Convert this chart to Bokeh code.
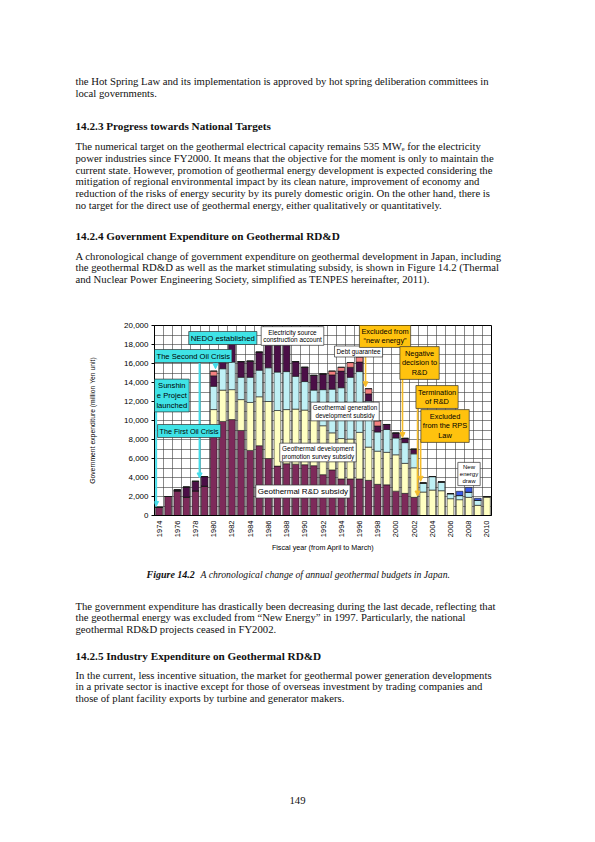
import math

from bokeh.plotting import figure
from bokeh.layouts import column
from bokeh.models import (ColumnDataSource, Label, Arrow, NormalHead, FixedTicker,
                          NumeralTickFormatter)
from bokeh.core.properties import value
from bokeh.embed import file_html
from bokeh.resources import INLINE

# fiscal years and budget components (million Yen)
years = [1974, 1975, 1976, 1977, 1978, 1979, 1980, 1981, 1982, 1983,
         1984, 1985, 1986, 1987, 1988, 1989, 1990, 1991, 1992, 1993,
         1994, 1995, 1996, 1997, 1998, 1999, 2000, 2001, 2002, 2003,
         2004, 2005, 2006, 2007, 2008, 2009, 2010]
rd_subsidy = [850, 2000, 2600, 1950, 2600, 3100, 8600, 9900, 10100, 8950,
              6850, 7350, 6000, 5200, 5450, 5400, 5350, 5250, 4300, 4800,
              3850, 3850, 3850, 3700, 3280, 3230, 2560, 2330, 1910, 0,
              0, 0, 0, 0, 0, 0, 0]
promotion_survey = [0, 0, 0, 0, 0, 0, 2550, 3300, 3150, 3250,
                    5050, 5150, 6000, 5850, 5700, 5800, 5750, 4950, 5150, 3900,
                    4250, 4200, 4900, 3500, 3490, 3420, 3830, 3160, 3110, 2470,
                    2680, 2610, 1770, 1665, 1910, 1070, 1980]
generation_dev = [0, 0, 0, 0, 0, 0, 2450, 2250, 2900, 2350,
                  2650, 2800, 3550, 4050, 4000, 3450, 3000, 3000, 3800, 4600,
                  5350, 6500, 6400, 4850, 2020, 2400, 1770, 2180, 1470, 950,
                  1420, 920, 530, 435, 545, 525, 0]
electricity_account = [0, 0, 100, 1050, 1000, 1000, 1100, 950, 1950, 1650,
                       1700, 1900, 2550, 2850, 2900, 1550, 1500, 1550, 1650, 1500,
                       1750, 1050, 1000, 750, 630, 530, 520, 450, 490, 0,
                       0, 0, 0, 0, 0, 0, 0]
debt_guarantee = [0, 0, 0, 0, 0, 0, 500, 0, 0, 0,
                  0, 0, 0, 0, 0, 0, 0, 0, 0, 400,
                  400, 500, 550, 550, 560, 0, 0, 0, 0, 0,
                  0, 0, 0, 0, 0, 0, 0]
new_energy_draw = [0, 0, 0, 0, 0, 0, 0, 0, 0, 0,
                   0, 0, 0, 0, 0, 0, 0, 0, 0, 0,
                   0, 0, 0, 0, 0, 0, 0, 0, 0, 0,
                   0, 0, 0, 445, 495, 215, 0]

x_ticks = [1974, 1976, 1978, 1980, 1982, 1984, 1986, 1988, 1990, 1992,
           1994, 1996, 1998, 2000, 2002, 2004, 2006, 2008, 2010]
y_ticks = [0, 2000, 4000, 6000, 8000, 10000, 12000, 14000, 16000, 18000, 20000]
y_grid = [0, 1000, 2000, 3000, 4000, 5000, 6000, 7000, 8000, 9000, 10000,
          11000, 12000, 13000, 14000, 15000, 16000, 17000, 18000, 19000, 20000]

top_lines = ["the Hot Spring Law and its implementation is approved by hot spring deliberation committees in",
             "local governments."]
para_targets = [
    "The numerical target on the geothermal electrical capacity remains 535 MWₑ for the electricity",
    "power industries since FY2000. It means that the objective for the moment is only to maintain the",
    "current state. However, promotion of geothermal energy development is expected considering the",
    "mitigation of regional environmental impact by its clean nature, improvement of economy and",
    "reduction of the risks of energy security by its purely domestic origin. On the other hand, there is",
    "no target for the direct use of geothermal energy, either qualitatively or quantitatively.",
]
para_govt = [
    "A chronological change of government expenditure on geothermal development in Japan, including",
    "the geothermal RD&D as well as the market stimulating subsidy, is shown in Figure 14.2 (Thermal",
    "and Nuclear Power Engineering Society, simplified as TENPES hereinafter, 2011).",
]
para_decrease = [
    "The government expenditure has drastically been decreasing during the last decade, reflecting that",
    "the geothermal energy was excluded from “New Energy” in 1997. Particularly, the national",
    "geothermal RD&D projects ceased in FY2002.",
]
para_industry = [
    "In the current, less incentive situation, the market for geothermal power generation developments",
    "in a private sector is inactive except for those of overseas investment by trading companies and",
    "those of plant facility exports by turbine and generator makers.",
]
headings = ["14.2.3  Progress towards National Targets",
            "14.2.4  Government Expenditure on Geothermal RD&D",
            "14.2.5  Industry Expenditure on Geothermal RD&D"]
caption_label = "Figure 14.2"
caption_text = "A chronological change of annual geothermal budgets in Japan."
page_number = "149"

stackers = ["rd", "promo", "gen", "elec", "debt", "newe"]
colors = ["#7D2A5A", "#FFFFC2", "#BFF0F5", "#4B0F47", "#F58080", "#3A5AE8"]

SANS = "Liberation Sans"
SERIF = "Liberation Serif"
W = 595
LEFT = 75
STEP = 11.65
BODY = "10.7px"
HEAD = "11.2px"


# ---------- page text (a figure whose frame is the page itself) ----------
def text_page(y_top, y_bottom):
    f = figure(width=W, height=y_bottom - y_top, x_range=(0, W), y_range=(y_bottom, y_top),
               x_axis_type=None, y_axis_type=None, output_backend="svg",
               toolbar_location=None, min_border=0, frame_align=False)
    f.grid.visible = False
    f.outline_line_color = None
    f.background_fill_color = "white"
    f.border_fill_color = "white"
    return f


def put_text(f, lines, xs, ys, size=BODY, style="normal", align="left"):
    src = ColumnDataSource(data=dict(x=xs, y=ys, text=lines))
    f.text(x="x", y="y", text="text", source=src, text_font=value(SERIF),
           text_font_size=value(size), text_font_style=style, text_color="#111111",
           text_align=align, text_baseline="alphabetic")


def paragraph(f, lines, y0):
    put_text(f, lines, [LEFT] * len(lines), [y0 + i * STEP for i in range(len(lines))])


top = text_page(0, 317)
paragraph(top, top_lines, 80.5)
paragraph(top, para_targets, 145.8)
paragraph(top, para_govt, 255.0)
put_text(top, headings[:2], [LEFT, LEFT], [125.8, 235.7], HEAD, "bold")

bottom = text_page(565, 842)
put_text(bottom, [caption_label], [146], [574], "10px", "bold italic")
put_text(bottom, [caption_text], [200], [574], "9.7px", "italic")
paragraph(bottom, para_decrease, 605.0)
put_text(bottom, headings[2:], [LEFT], [655], HEAD, "bold")
paragraph(bottom, para_industry, 674.0)
put_text(bottom, [page_number], [297], [800], BODY, "normal", "center")

# ---------- the chart ----------
source = ColumnDataSource(data=dict(
    year=years, rd=rd_subsidy, promo=promotion_survey, gen=generation_dev,
    elec=electricity_account, debt=debt_guarantee, newe=new_energy_draw))

p = figure(width=W, height=248, x_range=(1973.5, 2010.5), y_range=(0, 20000),
           output_backend="svg", toolbar_location=None, frame_align=False,
           min_border_left=154, min_border_right=104,
           min_border_top=8, min_border_bottom=50)
p.background_fill_color = "white"
p.border_fill_color = "white"
p.outline_line_color = "black"
p.outline_line_width = 1

p.vbar_stack(stackers, x="year", width=0.74, fill_color=colors,
             line_color="#1a1a1a", line_width=0.6, source=source)

# grid: every category boundary and every 1000
p.xgrid.ticker = FixedTicker(ticks=[y - 0.5 for y in years] + [years[-1] + 0.5])
p.ygrid.ticker = FixedTicker(ticks=y_grid)
for g in (p.xgrid, p.ygrid):
    g.grid_line_color = "#3a3a3a"
    g.grid_line_width = 0.6

p.yaxis.ticker = FixedTicker(ticks=y_ticks)
p.yaxis.formatter = NumeralTickFormatter(format="0,0")
p.yaxis.axis_label = "Government expenditure (million Yen unit)"
p.yaxis.axis_label_standoff = 25
p.yaxis.major_tick_out = 3
p.yaxis.major_label_standoff = 3

p.xaxis.ticker = FixedTicker(ticks=x_ticks)
p.xaxis.major_label_orientation = math.pi / 2
p.xaxis.axis_label = "Fiscal year (from April to March)"
p.xaxis.axis_label_standoff = 3
p.xaxis.major_tick_out = 0
p.xaxis.major_label_standoff = 5

for ax in (p.xaxis, p.yaxis):
    ax.axis_line_color = "black"
    ax.major_tick_line_color = "black"
    ax.major_tick_in = 0
    ax.minor_tick_line_color = None
    ax.major_label_text_font = SANS
    ax.major_label_text_color = "black"
    ax.axis_label_text_font = SANS
    ax.axis_label_text_font_style = "normal"
    ax.axis_label_text_color = "black"
p.yaxis.major_label_text_font_size = "8px"
p.xaxis.major_label_text_font_size = "7.5px"
p.yaxis.axis_label_text_font_size = "6.8px"
p.xaxis.axis_label_text_font_size = "7.2px"


def arrow(x0, y0, x1, y1, color, w):
    p.add_layout(Arrow(end=NormalHead(size=5, fill_color=color, line_color=color),
                       x_start=x0, y_start=y0, x_end=x1, y_end=y1,
                       line_color=color, line_width=w))


def box(text, x, y, fill, size):
    p.add_layout(Label(x=x, y=y, text=text, text_align="center", text_baseline="middle",
                       text_font=SANS, text_font_size=size, text_color="black",
                       text_line_height=1.1, background_fill_color=fill,
                       border_line_color="#333333", border_line_width=0.7, padding=2))


CYAN_BOX = "#3FE3E6"
CYAN_LINE = "#45DDEA"
GOLD_BOX = "#FFC20E"
GOLD_LINE = "#F5BC2A"

arrow(1980.2, 17263, 1980.2, 15450, CYAN_LINE, 2)
arrow(1978.45, 16315, 1978.45, 3950, CYAN_LINE, 2)
arrow(1973.68, 11263, 1973.68, 950, CYAN_LINE, 2)
arrow(1996.67, 17789, 1996.67, 13550, GOLD_LINE, 1.6)
arrow(2000.73, 14526, 2000.73, 8200, GOLD_LINE, 1.6)
arrow(2002.38, 11473, 2002.38, 2050, GOLD_LINE, 1.6)
arrow(2002.72, 8000, 2002.72, 3600, GOLD_LINE, 1.6)

box("NEDO established", 1981.0, 18684, CYAN_BOX, "7.8px")
box("The Second Oil Crisis", 1977.75, 16789, CYAN_BOX, "7.6px")
box("Sunshin\ne Project\nlaunched", 1975.4, 12631, CYAN_BOX, "7.6px")
box("The First Oil Crisis", 1977.3, 8894, CYAN_BOX, "7.2px")
box("Electricity source\nconstruction account", 1988.65, 18894, "white", "6.4px")
box("Debt guarantee", 1995.9, 17263, "white", "6.4px")
box("Geothermal generation\ndevelopment subsidy", 1994.42, 10947, "white", "6.3px")
box("Geothermal development\npromotion survey subsidy", 1991.45, 6631, "white", "6.4px")
box("Geothermal R&D subsidy", 1989.8, 2526, "white", "8px")
box("New\nenergy\ndraw", 2008.03, 4368, "white", "6px")
box("Excluded from\n“new energy”", 1998.81, 18894, GOLD_BOX, "7.4px")
box("Negative\ndecision to\nR&D", 2002.6, 16052, GOLD_BOX, "7.4px")
box("Termination\nof R&D", 2004.52, 12473, GOLD_BOX, "7.4px")
box("Excluded\nfrom the RPS\nLaw", 2005.4, 9421, GOLD_BOX, "7.4px")

layout = column(top, p, bottom, spacing=0)
open("out.html", "w").write(file_html(layout, INLINE))
